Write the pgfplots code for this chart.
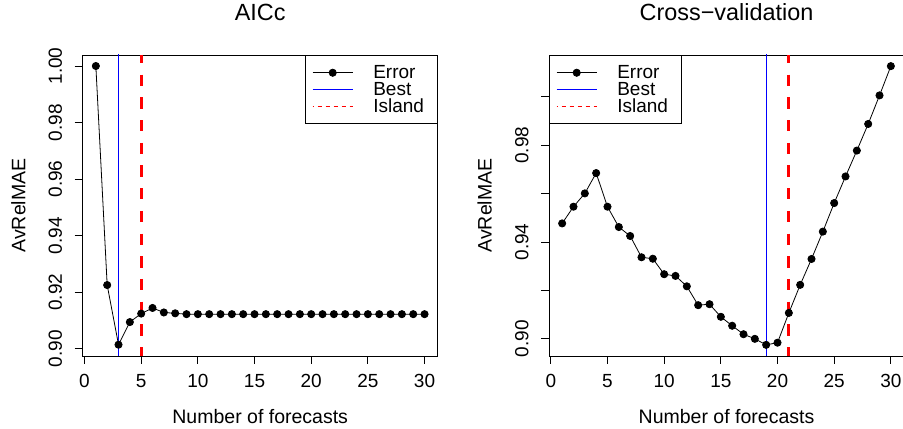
\documentclass[border=0pt]{standalone}
\usepackage{fontspec}
\setmainfont{Liberation Sans}
\usepackage{pgfplots}
\pgfplotsset{compat=1.18}
\definecolor{rblue}{RGB}{0,0,255}
\definecolor{rred}{RGB}{255,0,0}
\begin{document}
\begin{tikzpicture}
\useasboundingbox (0,0) rectangle (903bp,429bp);
\pgfplotsset{
  rstyle/.style={
    scale only axis, width=355bp, height=301bp, anchor=south west,
    xmin=-0.16, xmax=31.16,
    axis line style={line width=0.8bp},
    tick align=outside, major tick length=8bp, tick style={black, line width=0.8bp},
    xtick pos=bottom, ytick pos=left,
    xtick={0,5,10,15,20,25,30}, xticklabels={0,5,10,15,20,25,30},
    ytick={0.90,0.92,0.94,0.96,0.98,1.00},
    tick label style={font=\fontsize{19bp}{22bp}\selectfont},
    yticklabel style={rotate=90, anchor=south},
    xticklabel shift=7bp, yticklabel shift=9bp,
    label style={font=\fontsize{19.5bp}{22bp}\selectfont},
    xlabel={Number of forecasts}, ylabel={AvRelMAE},
    xlabel style={at={(axis description cs:0.5,-0.2017)}, anchor=center},
    ylabel style={at={(axis description cs:-0.1814,0.5)}, anchor=center},
    title style={font=\fontsize{23.4bp}{26bp}\selectfont, at={(axis description cs:0.5,1)}, anchor=base, yshift=28.3bp},
    legend style={line width=0.8bp, inner xsep=6.7bp, inner ysep=9bp, column sep=20bp, row sep=0pt,
      font=\fontsize{19bp}{22bp}\selectfont, cells={anchor=west},
      nodes={inner sep=0pt, text height=14.5bp, text depth=2.2bp},
      /tikz/every even column/.append style={nodes={text width=57.3bp, align=left}}},
    legend image code/.code={\draw[mark repeat=2,mark phase=2,#1] plot coordinates {(0bp,0bp) (20bp,0bp) (40bp,0bp)};},
    errstyle/.style={color=black, line width=0.8bp, mark=*, mark size=3.6bp, mark options={solid, fill=black}},
    beststyle/.style={color=rblue, draw=rblue, line width=0.8bp, mark=none,
      legend image code/.code={\draw[draw=rblue, line width=1.2bp] (0bp,0bp) -- (40bp,0bp);}},
    islandstyle/.style={color=rred, line width=3bp, dash pattern=on 11.3bp off 11.4bp, dash phase=3bp, mark=none,
      legend image code/.code={\draw[draw=rred, line width=1.1bp, dash pattern=on 4bp off 4bp] (0bp,0bp) -- (40bp,0bp);}},
  }
}
% ---------------- Left panel: AICc
\begin{axis}[rstyle, at={(82.7bp,73bp)}, ymin=0.8974, ymax=1.0039,
  yticklabels={0.90,0.92,0.94,0.96,0.98,1.00},
  title={AICc},
  legend style={at={(1,1)}, anchor=north east}]
\addplot[errstyle] coordinates {
(1,1.000) (2,0.9225) (3,0.9014) (4,0.9094) (5,0.9124) (6,0.9144) (7,0.9128) (8,0.9125)
(9,0.9122) (10,0.9122) (11,0.9122) (12,0.9122) (13,0.9122) (14,0.9122) (15,0.9122)
(16,0.9122) (17,0.9122) (18,0.9122) (19,0.9122) (20,0.9122) (21,0.9122) (22,0.9122)
(23,0.9122) (24,0.9122) (25,0.9122) (26,0.9122) (27,0.9122) (28,0.9122) (29,0.9122) (30,0.9122)};
\addlegendentry{Error}
\addplot[beststyle] coordinates {(3,1.1) (3,0.8)};
\addlegendentry{Best}
\addplot[islandstyle] coordinates {(5,1.0039) (5,0.8974)};
\addlegendentry{Island}
\end{axis}
% ---------------- Right panel: Cross-validation
\begin{axis}[rstyle, at={(549bp,73bp)}, ymin=0.8929, ymax=1.0173,
  yticklabels={0.90,{},0.94,{},0.98,{}},
  title={Cross−validation},
  legend style={at={(0,1)}, anchor=north west}]
\addplot[errstyle] coordinates {
(1,0.9477) (2,0.9546) (3,0.9601) (4,0.9685) (5,0.9546) (6,0.9462) (7,0.9425) (8,0.9337)
(9,0.9331) (10,0.9267) (11,0.9260) (12,0.9217) (13,0.9139) (14,0.9143) (15,0.9091)
(16,0.9054) (17,0.9019) (18,0.9000) (19,0.8975) (20,0.8984) (21,0.9107) (22,0.9223)
(23,0.9330) (24,0.9443) (25,0.9561) (26,0.9671) (27,0.9778) (28,0.9888) (29,1.0006) (30,1.0127)};
\addlegendentry{Error}
\addplot[beststyle] coordinates {(19,1.1) (19,0.8)};
\addlegendentry{Best}
\addplot[islandstyle] coordinates {(21,1.0173) (21,0.8929)};
\addlegendentry{Island}
\end{axis}
\end{tikzpicture}
\end{document}
